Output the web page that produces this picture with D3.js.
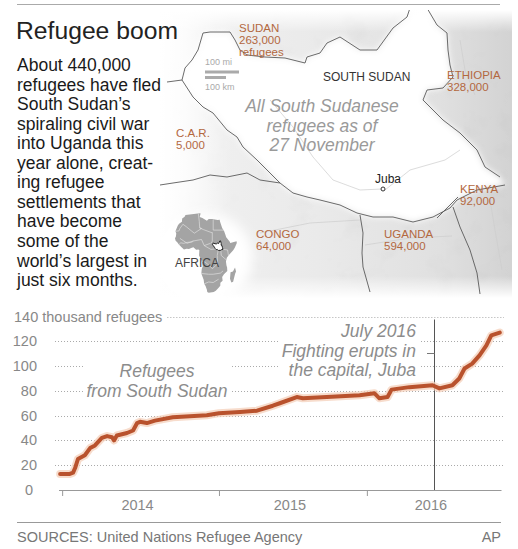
<!DOCTYPE html>
<html>
<head>
<meta charset="utf-8">
<title>Refugee boom</title>
<script src="https://cdn.jsdelivr.net/npm/d3@7"></script>
<style>
    html, body { margin: 0; padding: 0; background: #fff; }
    svg { display: block; font-family: "Liberation Sans", Arial, sans-serif; }
</style>
</head>
<body>
<div id="chart"></div>
<script>
// ---------- data (thousands of refugees from South Sudan) ----------
var refugeeDates = [
    "2013-12-05", "2013-12-29", "2014-01-06", "2014-01-11", "2014-01-18", "2014-02-04",
    "2014-02-17", "2014-03-01", "2014-03-18", "2014-03-31", "2014-04-12", "2014-04-17",
    "2014-04-24", "2014-05-19", "2014-06-03", "2014-06-13", "2014-06-20", "2014-07-07",
    "2014-07-27", "2014-09-09", "2014-12-02", "2015-01-01", "2015-02-22", "2015-04-05",
    "2015-05-14", "2015-05-31", "2015-07-12", "2015-07-27", "2015-09-24", "2015-12-14",
    "2016-01-20", "2016-02-01", "2016-02-21", "2016-03-02", "2016-04-15", "2016-06-11",
    "2016-06-28", "2016-07-30", "2016-08-16", "2016-08-29", "2016-09-17", "2016-10-05",
    "2016-10-22", "2016-11-03", "2016-11-24"
];
var refugeeThousands = [
    13, 13, 14, 17.7, 25, 28,
    33.8, 36, 42, 43.5, 42.6, 40,
    44, 46, 48, 54, 55, 54,
    56, 58.7, 60.3, 62, 63, 64,
    68, 70, 75, 74, 75, 76.4,
    78, 74, 75, 81, 83, 84.5,
    82, 84.5, 90, 98, 102, 108.6,
    116.7, 124.7, 127
];
var yTicks = [0, 20, 40, 60, 80, 100, 120, 140];
var axisDomain = ["2013-12-01", "2016-11-27"];
var axisTickDates = ["2013-12-10", "2015-01-01", "2016-01-01"];
var yearLabels = ["2014", "2015", "2016"];
var annotationDate = "2016-06-15";   // where the marker sits in the original
var annotationLines = ["July 2016", "Fighting erupts in", "the capital, Juba"];
var seriesLabel = ["Refugees", "from South Sudan"];

// map: all South Sudanese refugees by host country
var mapCountries = ["SUDAN", "ETHIOPIA", "C.A.R.", "KENYA", "CONGO", "UGANDA"];
var mapRefugees = [263000, 328000, 5000, 92000, 64000, 594000];

// ---------- text ----------
var title = "Refugee boom";
var bodyLines = [
    "About 440,000", "refugees have fled", "South Sudan\u2019s", "spiraling civil war",
    "into Uganda this", "year alone, creat-", "ing refugee", "settlements that",
    "have become", "some of the", "world\u2019s largest in", "just six months."
];

// ---------- map geometry (traced, in map-frame units) ----------
var sudanBorder = [[7,82],[22,80],[25,68],[32,60],[38,50],[43,33],[50,32],[70,32],[75,40],[80,50],[87,55],
    [105,57],[125,58],[145,63],[147,57],[160,53],[167,43],[180,37],[200,50],[217,50],[233,28],[247,17],[250,8]];
var ethiopiaBorder = [[267,8],[277,25],[287,33],[288,50],[290,65],[293,77],[283,88],[267,90],[263,100],
    [273,110],[283,120],[300,133],[317,150],[325,167],[340,177]];
var southBorder = [[22,80],[33,97],[43,107],[53,113],[67,130],[77,137],[83,147],[97,160],[107,170],[120,183],
    [133,193],[147,197],[160,200],[180,205],[197,213],[213,217],[233,217],[253,222],[273,217],[290,208],
    [297,200],[317,190],[345,185]];
var carCongoBorder = [[0,185],[13,183],[33,180],[50,175],[67,177],[87,173],[100,180],[120,183]];
var ugandaCongoBorder = [[200,215],[203,233],[202,253],[203,267],[210,292]];
var ugandaKenyaBorder = [[293,207],[300,227],[310,250],[317,273],[320,294]];
var kenyaBorder = [[298,197],[277,218]];
var faintLines = [
    [[110,100],[133,127],[153,157],[173,180],[200,190],[222,189]],
    [[100,233],[150,223],[200,220]],
    [[205,245],[250,238],[292,236]],
    [[225,190],[250,170],[285,160],[300,150]],
    [[330,200],[335,230],[342,270]],
    [[300,40],[305,70],[315,95]]
];

// Africa inset (lon, lat)
var africaOutline = [[-5.8,35.8],[10.2,37.3],[11,37],[10,33.9],[13,32.9],[18,30.5],[20,32.1],[24,32],[30,31.2],
    [32.3,31.3],[32.5,30],[35,24],[37.2,21],[38.5,18],[39.5,15.5],[41.7,13.3],[43.3,11.6],[44,10.4],[51,11.8],
    [51.3,10.4],[49,6],[47.5,4],[45,1.8],[42,-1],[40.2,-3],[39.2,-6.5],[39.8,-10],[40.5,-12],[40.7,-15],[37,-18],
    [35,-20.5],[35.5,-24],[33,-25.8],[32.9,-28.5],[30.8,-30.5],[27.9,-33],[25.6,-34],[20,-34.8],[18.4,-34.2],
    [18,-32],[16.5,-28.6],[15,-26.7],[14.4,-22.9],[11.8,-17.3],[12.3,-13],[13.4,-11],[12.2,-6],[9.3,-1],
    [9.6,3.9],[8.5,4.5],[6,4.3],[3,6.4],[1.2,6.1],[-2,4.8],[-4.5,5.2],[-7.5,4.4],[-10.5,6.7],[-13.2,8.9],
    [-15,11],[-16.8,12.4],[-17.5,14.7],[-16.5,16.2],[-16.1,19],[-17,21],[-14.5,26],[-13,27.8],[-9.8,29.5],
    [-9.5,32.5],[-6.8,34],[-5.8,35.8]];
var madagascar = [[49.3,-12],[50.4,-15.5],[49.4,-17.5],[47.2,-24.8],[45.2,-25.5],[43.7,-22],[44.3,-16.3],[47,-15.5],[49.3,-12]];
var southSudanOutline = [[24.2,8.7],[25.1,10.3],[27,9.6],[29,9.6],[30,10.3],[31,9.8],[32.4,12.2],[33.2,12.2],
    [33.9,10],[34.1,9.5],[33.7,8.4],[34.7,8.1],[35.3,6.2],[35.9,4.6],[34,4.2],[33.5,3.7],[31,3.6],[30.5,3.5],
    [29.6,4.5],[28.4,4.3],[27.3,5.2],[26.4,6.5],[25.2,7.8],[24.2,8.7]];
var africaBorders = [
    [[25,31.6],[25,22],[36.8,22]],
    [[24,20],[24,12],[22.5,10]],
    [[10,24],[14,22.5],[24,19.5]],
    [[8.5,36.9],[9.5,30],[10,24],[12,23.5]],
    [[-8.7,27.3],[-4.8,25],[1.2,21],[4,19.2],[12,23.5]],
    [[-12,14.5],[-4,10],[2,12],[12,13.5],[15,8],[22,10]],
    [[15,8],[22.5,4.5],[27.5,5],[31,3.6]],
    [[12.2,-6],[16,-7],[22,-11],[24,-13],[30,-8.5],[29.5,-1],[30.5,3.6]],
    [[11.8,-17.3],[20,-18],[25,-18],[33,-17],[36,-15]],
    [[15,-26.7],[20,-25],[25,-25.5],[31,-22.5]],
    [[33.5,3.7],[34,-1],[37.5,-3.5],[39.2,-4.7]],
    [[35.9,4.6],[41,4],[42,-1]],
    [[-13.2,8.9],[-11,10.5],[-8,10],[-3,11],[1,11],[3,12]],
    [[-17,21],[-13,21.3],[-12,23.5],[-8.7,27.3]]
];

// ---------- setup ----------
var W = 518, H = 549;
var parse = d3.timeParse("%Y-%m-%d");
var fmt = d3.format(",");

var svg = d3.select("#chart").append("svg")
    .attr("width", W).attr("height", H);
var defs = svg.append("defs");

function linearGradient(id, x1, y1, x2, y2, stops) {
    var g = defs.append("linearGradient").attr("id", id)
        .attr("gradientUnits", "userSpaceOnUse")
        .attr("x1", x1).attr("y1", y1).attr("x2", x2).attr("y2", y2);
    stops.forEach(function(s) {
        g.append("stop").attr("offset", s[0]).attr("stop-color", s[1]).attr("stop-opacity", s[2]);
    });
}

// ---------- map ----------
var mx = d3.scaleLinear().domain([0, 350]).range([160, 510]);
var my = d3.scaleLinear().domain([0, 300]).range([0, 300]);
var mapLine = d3.line().x(function(d) { return mx(d[0]); }).y(function(d) { return my(d[1]); });

defs.append("clipPath").attr("id", "mapClip").append("rect")
    .attr("x", 160).attr("y", 10).attr("width", 352).attr("height", 288);
linearGradient("mapShade", 160, 0, 510, 0, [
    ["0%", "#f2f2f2", 1], ["45%", "#eaeaea", 1], ["80%", "#e0e0e0", 1], ["100%", "#d3d3d3", 1]]);
linearGradient("fadeLeft", 160, 0, 232, 0, [["0%", "#fff", 1], ["35%", "#fff", 0.8], ["100%", "#fff", 0]]);
linearGradient("fadeTop", 0, 10, 0, 32, [["0%", "#fff", 1], ["100%", "#fff", 0]]);
linearGradient("fadeBottom", 0, 298, 0, 276, [["0%", "#fff", 1], ["100%", "#fff", 0]]);

var relief = defs.append("filter").attr("id", "relief")
    .attr("x", 0).attr("y", 0).attr("width", 1).attr("height", 1);
relief.append("feTurbulence").attr("type", "fractalNoise").attr("baseFrequency", 0.035)
    .attr("numOctaves", 4).attr("seed", 7).attr("result", "noise");
relief.append("feColorMatrix").attr("in", "noise").attr("type", "matrix")
    .attr("values", "0.33 0.33 0.33 0 0 0.33 0.33 0.33 0 0 0.33 0.33 0.33 0 0 0 0 0 0 1")
    .attr("result", "gray");
var ct = relief.append("feComponentTransfer").attr("in", "gray").attr("result", "soft");
["feFuncR", "feFuncG", "feFuncB"].forEach(function(f) {
    ct.append(f).attr("type", "linear").attr("slope", 0.3).attr("intercept", 0.86);
});
relief.append("feBlend").attr("in", "SourceGraphic").attr("in2", "soft").attr("mode", "multiply");

defs.append("filter").attr("id", "soft6")
    .attr("x", "-20%").attr("y", "-20%").attr("width", "140%").attr("height", "140%")
    .append("feGaussianBlur").attr("stdDeviation", 6);
defs.append("filter").attr("id", "soft3")
    .attr("x", "-10%").attr("y", "-10%").attr("width", "120%").attr("height", "120%")
    .append("feGaussianBlur").attr("stdDeviation", 3);

var map = svg.append("g").attr("clip-path", "url(#mapClip)");
map.append("rect").attr("x", 160).attr("y", 10).attr("width", 352).attr("height", 288)
    .attr("fill", "url(#mapShade)").attr("filter", "url(#relief)");

var southSudanPoly = sudanBorder.slice(1)
    .concat(ethiopiaBorder)
    .concat(southBorder.slice().reverse());
map.append("path").attr("d", mapLine(southSudanPoly) + "Z")
    .attr("fill", "#fff").attr("filter", "url(#soft3)");

map.append("rect").attr("x", 160).attr("y", 10).attr("width", 72).attr("height", 288).attr("fill", "url(#fadeLeft)");
map.append("rect").attr("x", 160).attr("y", 10).attr("width", 352).attr("height", 22).attr("fill", "url(#fadeTop)");
map.append("rect").attr("x", 160).attr("y", 276).attr("width", 352).attr("height", 22).attr("fill", "url(#fadeBottom)");
map.append("ellipse").attr("cx", 205).attr("cy", 258).attr("rx", 48).attr("ry", 45)
    .attr("fill", "#fff").attr("filter", "url(#soft6)");

map.append("g").selectAll("path").data(faintLines).join("path")
    .attr("d", mapLine).attr("fill", "none").attr("stroke", "#cdcdcd").attr("stroke-width", 0.7);
map.append("g").selectAll("path")
    .data([sudanBorder, ethiopiaBorder, southBorder, carCongoBorder, ugandaCongoBorder, ugandaKenyaBorder, kenyaBorder])
    .join("path")
    .attr("d", mapLine).attr("fill", "none").attr("stroke", "#5a5a5a")
    .attr("stroke-width", 0.9).attr("stroke-linejoin", "round");

// scale bar
var bar = svg.append("g").attr("fill", "#aaa");
bar.append("text").attr("x", 205).attr("y", 65).attr("font-size", 9).text("100 mi");
bar.append("rect").attr("x", 205).attr("y", 70.5).attr("width", 34).attr("height", 3);
bar.append("rect").attr("x", 205).attr("y", 76).attr("width", 21).attr("height", 3);
bar.append("text").attr("x", 205).attr("y", 90).attr("font-size", 9).text("100 km");

// Africa inset
var ax = d3.scaleLinear().domain([-17.5, 51.5]).range([175, 237]);
var ay = d3.scaleLinear().domain([37.5, -35]).range([213, 293]);
var afLine = d3.line().x(function(d) { return ax(d[0]); }).y(function(d) { return ay(d[1]); });
var inset = svg.append("g");
inset.selectAll("path.land").data([africaOutline, madagascar]).join("path")
    .attr("class", "land").attr("d", function(d) { return afLine(d) + "Z"; })
    .attr("fill", "#a4a4a4");
inset.selectAll("path.border").data(africaBorders).join("path")
    .attr("class", "border").attr("d", afLine)
    .attr("fill", "none").attr("stroke", "#e8e8e8").attr("stroke-width", 0.6);
inset.append("path").attr("d", afLine(southSudanOutline) + "Z")
    .attr("fill", "#fff").attr("stroke", "#222").attr("stroke-width", 1);
inset.append("text").attr("x", 175).attr("y", 267).attr("font-size", 12)
    .attr("fill", "#444").text("AFRICA");

// map labels
var mapLabelPos = [[239, 32], [447, 79], [176, 137], [460, 193], [256, 238], [384, 238]];
var labels = svg.append("g").attr("fill", "#b3683f").attr("font-size", 11.5);
mapCountries.forEach(function(name, i) {
    var t = labels.append("text").attr("x", mapLabelPos[i][0]).attr("y", mapLabelPos[i][1]);
    var lines = [name, fmt(mapRefugees[i])];
    if (name === "SUDAN") lines.push("refugees");
    lines.forEach(function(l, j) {
        t.append("tspan").attr("x", mapLabelPos[i][0]).attr("dy", j === 0 ? 0 : 12).text(l);
    });
});
svg.append("text").attr("x", 323).attr("y", 81).attr("font-size", 12)
    .attr("fill", "#333").text("SOUTH SUDAN");
svg.append("text").attr("x", 375).attr("y", 183).attr("font-size", 12)
    .attr("fill", "#222").text("Juba");
svg.append("circle").attr("cx", 383).attr("cy", 189).attr("r", 2)
    .attr("fill", "#fff").attr("stroke", "#333").attr("stroke-width", 1);
svg.append("g").selectAll("text")
    .data(["All South Sudanese", "refugees as of", "27 November"]).join("text")
    .attr("x", 322).attr("y", function(d, i) { return 112 + i * 19.5; })
    .attr("text-anchor", "middle").attr("font-size", 17.5).attr("font-style", "italic")
    .attr("fill", "#9a9a9a").text(function(d) { return d; });

// ---------- header: rule, title, body (drawn over the map edge) ----------
svg.append("line").attr("x1", 17).attr("x2", 500).attr("y1", 4.5).attr("y2", 4.5)
    .attr("stroke", "#aaa");
svg.append("text").attr("x", 16).attr("y", 39)
    .attr("font-size", 24.7).attr("fill", "#222").text(title);
svg.append("g").selectAll("text").data(bodyLines).join("text")
    .attr("x", 17)
    .attr("y", function(d, i) { return 71 + i * 19.55; })
    .attr("font-size", 17.5).attr("fill", "#1a1a1a")
    .text(function(d) { return d; });

// ---------- line chart ----------
var series = refugeeDates.map(function(d, i) {
    return { date: parse(d), value: refugeeThousands[i] };
});
var x = d3.scaleTime().domain(axisDomain.map(parse)).range([58.5, 501]);
var y = d3.scaleLinear().domain([0, 140]).range([490, 316.5]);

var chart = svg.append("g");

// y labels and dotted grid
var topLabel = chart.append("text").attr("x", 14).attr("y", y(140) + 5)
    .attr("font-size", 14.5).attr("fill", "#888").text("140 thousand refugees");
var topLabelEnd = 14 + topLabel.node().getComputedTextLength();
chart.append("g").selectAll("text").data(yTicks.filter(function(v) { return v < 140; })).join("text")
    .attr("x", function(v) { return v === 0 ? 33 : 37; })
    .attr("y", function(v) { return y(v) + 5; })
    .attr("text-anchor", "end").attr("font-size", 14.5).attr("fill", "#888")
    .text(function(v) { return v; });
chart.append("g").selectAll("line").data(yTicks.filter(function(v) { return v > 0; })).join("line")
    .attr("x1", function(v) { return v === 140 ? topLabelEnd + 5 : 55; })
    .attr("x2", 504)
    .attr("y1", function(v) { return Math.round(y(v)) + 0.5; })
    .attr("y2", function(v) { return Math.round(y(v)) + 0.5; })
    .attr("stroke", "#aaa").attr("stroke-dasharray", "1,2");

// x axis
var xAxis = chart.append("g").attr("transform", "translate(0," + y(0) + ")")
    .call(d3.axisBottom(x).tickValues(axisTickDates.map(parse))
        .tickSize(6).tickSizeOuter(0).tickFormat(""));
xAxis.select(".domain").attr("stroke", "#999");
xAxis.selectAll(".tick line").attr("stroke", "#999");
var bounds = axisTickDates.map(function(d) { return x(parse(d)); }).concat([x.range()[1]]);
chart.append("g").selectAll("text").data(yearLabels).join("text")
    .attr("x", function(d, i) { return (bounds[i] + bounds[i + 1]) / 2 - 3; })
    .attr("y", 510).attr("text-anchor", "middle")
    .attr("font-size", 14.5).attr("fill", "#888").text(function(d) { return d; });

// text block with a white box behind it
function boxedLines(lines, xPos, y0, anchor) {
    var g = chart.append("g");
    var box = g.append("rect").attr("fill", "#fff");
    var t = g.append("g");
    t.selectAll("text").data(lines).join("text")
        .attr("x", xPos).attr("y", function(d, i) { return y0 + i * 19.5; })
        .attr("text-anchor", anchor).attr("font-size", 17.5).attr("font-style", "italic")
        .attr("fill", "#8c8c8c").text(function(d) { return d; });
    var b = t.node().getBBox();
    box.attr("x", b.x - 3).attr("y", b.y - 1)
        .attr("width", b.width + 6).attr("height", b.height + 2);
    return g;
}
boxedLines(seriesLabel, 157, 377, "middle");

var annX = Math.round(x(parse(annotationDate))) + 0.5;
boxedLines(annotationLines, 416, 337, "end");
chart.append("line").attr("x1", annX).attr("x2", annX)
    .attr("y1", y(140) + 3).attr("y2", y(0))
    .attr("stroke", "#555");
chart.append("line").attr("x1", 427).attr("x2", annX)
    .attr("y1", 353.5).attr("y2", 353.5).attr("stroke", "#777");

// refugee line
var line = d3.line()
    .x(function(d) { return x(d.date); })
    .y(function(d) { return y(d.value); });
chart.append("path").datum(series).attr("d", line)
    .attr("fill", "none").attr("stroke", "#f4cdb7").attr("stroke-width", 8)
    .attr("stroke-opacity", 0.7).attr("stroke-linejoin", "round").attr("stroke-linecap", "round");
chart.append("path").datum(series).attr("d", line)
    .attr("fill", "none").attr("stroke", "#b9522d").attr("stroke-width", 4)
    .attr("stroke-linejoin", "round").attr("stroke-linecap", "round");

// ---------- footer ----------
svg.append("line").attr("x1", 17).attr("x2", 501).attr("y1", 522.5).attr("y2", 522.5)
    .attr("stroke", "#999");
svg.append("text").attr("x", 17).attr("y", 542).attr("font-size", 14.5).attr("fill", "#777")
    .text("SOURCES: United Nations Refugee Agency");
svg.append("text").attr("x", 501).attr("y", 542).attr("text-anchor", "end")
    .attr("font-size", 14.5).attr("fill", "#777").text("AP");
</script>
</body>
</html>
